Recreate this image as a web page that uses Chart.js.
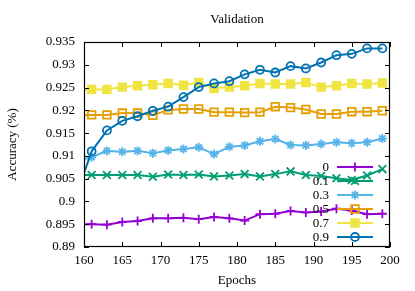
<!DOCTYPE html>
<html>
<head>
<meta charset="utf-8">
<script src="https://cdn.jsdelivr.net/npm/chart.js@4.4.1/dist/chart.umd.min.js"></script>
<style>
  html, body { margin: 0; padding: 0; background: #fff; }
  canvas { display: block; }
</style>
</head>
<body>
<canvas id="chart" width="415" height="291"></canvas>
<script>
// epochs (160 is the unmarked start of each line, markers every 2 epochs)
const epochs = [160, 161, 163, 165, 167, 169, 171, 173, 175, 177, 179, 181, 183, 185, 187, 189, 191, 193, 195, 197, 199];

const acc0  = [0.8950, 0.8950, 0.8949, 0.8955, 0.8957, 0.8963, 0.8963, 0.8964, 0.8961, 0.8966, 0.8963, 0.8958, 0.8972, 0.8973, 0.8979, 0.8976, 0.8978, 0.8984, 0.8980, 0.8972, 0.8973];
const acc01 = [0.9058, 0.9058, 0.9058, 0.9058, 0.9058, 0.9054, 0.9059, 0.9058, 0.9059, 0.9055, 0.9057, 0.9060, 0.9055, 0.9060, 0.9066, 0.9058, 0.9056, 0.9051, 0.9047, 0.9057, 0.9071];
const acc03 = [0.9093, 0.9097, 0.9111, 0.9109, 0.9111, 0.9106, 0.9112, 0.9115, 0.9119, 0.9104, 0.9120, 0.9123, 0.9132, 0.9137, 0.9124, 0.9123, 0.9126, 0.9130, 0.9128, 0.9130, 0.9138];
const acc05 = [0.9190, 0.9190, 0.9190, 0.9194, 0.9194, 0.9189, 0.9201, 0.9203, 0.9203, 0.9196, 0.9196, 0.9195, 0.9196, 0.9208, 0.9206, 0.9202, 0.9192, 0.9192, 0.9197, 0.9197, 0.9199];
const acc07 = [0.9246, 0.9246, 0.9246, 0.9251, 0.9254, 0.9256, 0.9259, 0.9255, 0.9261, 0.9248, 0.9251, 0.9254, 0.9259, 0.9258, 0.9258, 0.9261, 0.9251, 0.9254, 0.9259, 0.9258, 0.9260];
const acc09 = [0.9062, 0.9110, 0.9156, 0.9177, 0.9187, 0.9199, 0.9208, 0.9229, 0.9251, 0.9259, 0.9264, 0.9279, 0.9289, 0.9283, 0.9297, 0.9292, 0.9305, 0.9321, 0.9324, 0.9336, 0.9336];

const seriesLabels = ['0', '0.1', '0.3', '0.5', '0.7', '0.9'];
const seriesData = [acc0, acc01, acc03, acc05, acc07, acc09];
const colors = ['#9400d3', '#009e73', '#56b4e9', '#e69f00', '#f0e442', '#0072b2'];
const markers = ['cross', 'crossRot', 'star', 'rect', 'rect', 'circle'];
const markerFill = [false, false, false, false, true, false];
const markerSize = [4.5, 5.5, 4.5, 5.4, 5.4, 4];

const FONT = "'Liberation Serif', 'Times New Roman', serif";

const datasets = seriesData.map((vals, i) => ({
  label: seriesLabels[i],
  data: epochs.map((e, j) => ({ x: e, y: vals[j] })),
  borderColor: colors[i],
  backgroundColor: markerFill[i] ? colors[i] : 'rgba(0,0,0,0)',
  borderWidth: 2,
  pointStyle: markers[i],
  pointRadius: ctx => (epochs[ctx.dataIndex] % 2 === 1 ? markerSize[i] : 0),
  pointBorderWidth: 1.8,
  pointBorderColor: colors[i],
  pointBackgroundColor: markerFill[i] ? colors[i] : 'rgba(0,0,0,0)',
  tension: 0,
  order: seriesData.length - i
}));

// border box with inward ticks on all four sides
const framePlugin = {
  id: 'frame',
  afterDatasetsDraw(chart) {
    const { ctx, chartArea: a, scales: { x, y } } = chart;
    ctx.save();
    ctx.strokeStyle = '#000';
    ctx.lineWidth = 1;
    ctx.beginPath();
    x.ticks.forEach(t => {
      const px = Math.round(x.getPixelForValue(t.value)) + 0.5;
      ctx.moveTo(px, a.bottom); ctx.lineTo(px, a.bottom - 5);
      ctx.moveTo(px, a.top); ctx.lineTo(px, a.top + 5);
    });
    y.ticks.forEach(t => {
      const py = Math.round(y.getPixelForValue(t.value)) + 0.5;
      ctx.moveTo(a.left, py); ctx.lineTo(a.left + 5, py);
      ctx.moveTo(a.right, py); ctx.lineTo(a.right - 5, py);
    });
    ctx.stroke();
    ctx.lineWidth = 1.2;
    ctx.strokeRect(Math.round(a.left) + 0.5, Math.round(a.top) + 0.5,
      Math.round(a.width) - 1, Math.round(a.height) - 1);
    ctx.restore();
  }
};

// gnuplot-like key: right-aligned text, then line sample with marker
const keyPlugin = {
  id: 'key',
  afterDraw(chart) {
    const { ctx, chartArea: a } = chart;
    const drawPoint = Chart.helpers && Chart.helpers.drawPoint;
    ctx.save();
    ctx.font = '13px ' + FONT;
    ctx.textAlign = 'right';
    ctx.textBaseline = 'middle';
    chart.data.datasets.forEach((ds, i) => {
      const yy = a.bottom - 80 + i * 14;
      ctx.fillStyle = '#000';
      ctx.fillText(ds.label, a.right - 61, yy + 1);
      ctx.strokeStyle = colors[i];
      ctx.lineWidth = 2;
      ctx.beginPath();
      ctx.moveTo(a.right - 53, yy);
      ctx.lineTo(a.right - 17, yy);
      ctx.stroke();
      if (drawPoint) {
        ctx.lineWidth = 1.8;
        ctx.fillStyle = markerFill[i] ? colors[i] : 'rgba(0,0,0,0)';
        drawPoint(ctx, { pointStyle: markers[i], radius: markerSize[i], rotation: 0, borderWidth: 1.8 },
          a.right - 35, yy);
      }
    });
    ctx.restore();
  }
};

const titlePlugin = {
  id: 'plotTitle',
  afterDraw(chart) {
    const { ctx, chartArea: a } = chart;
    ctx.save();
    ctx.font = '13px ' + FONT;
    ctx.fillStyle = '#000';
    ctx.textAlign = 'center';
    ctx.textBaseline = 'middle';
    ctx.fillText('Validation', (a.left + a.right) / 2, 20);
    ctx.restore();
  }
};

new Chart(document.getElementById('chart'), {
  type: 'line',
  data: { datasets },
  options: {
    responsive: false,
    animation: false,
    events: [],
    layout: { padding: { top: 42, right: 25, left: 0, bottom: 0 } },
    plugins: {
      legend: { display: false },
      tooltip: { enabled: false },
      title: { display: false }
    },
    scales: {
      x: {
        type: 'linear',
        min: 160,
        max: 200,
        afterFit: s => { s.height = 44; },
        grid: { display: false, drawTicks: false },
        border: { display: false },
        ticks: {
          stepSize: 5,
          padding: 6,
          maxRotation: 0,
          color: '#000',
          font: { family: FONT, size: 13 }
        },
        title: {
          display: true,
          text: 'Epochs',
          color: '#000',
          font: { family: FONT, size: 13 },
          padding: { top: 0, bottom: 3 }
        }
      },
      y: {
        min: 0.89,
        max: 0.935,
        afterFit: s => { s.width = 84; },
        grid: { display: false, drawTicks: false },
        border: { display: false },
        ticks: {
          stepSize: 0.005,
          padding: 9,
          color: '#000',
          font: { family: FONT, size: 13 },
          callback: v => String(+v.toFixed(3))
        },
        title: {
          display: true,
          text: 'Accuracy (%)',
          color: '#000',
          font: { family: FONT, size: 13 },
          padding: { top: 5, bottom: 0 }
        }
      }
    }
  },
  plugins: [framePlugin, keyPlugin, titlePlugin]
});
</script>
</body>
</html>
